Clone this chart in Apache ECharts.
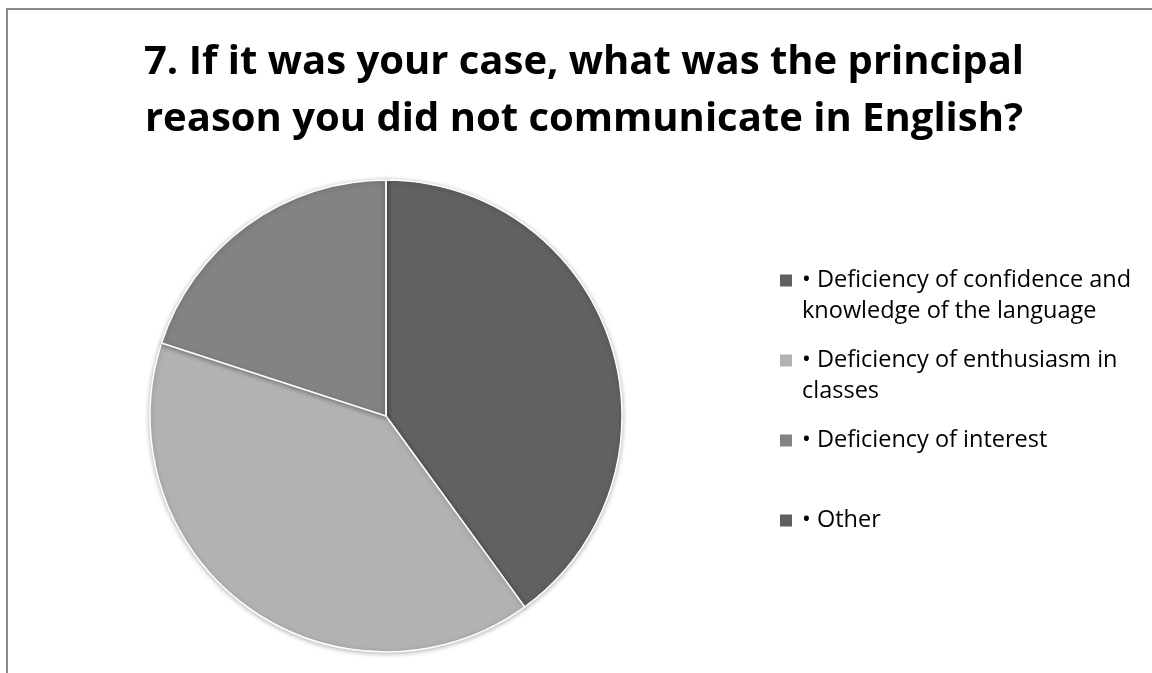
<!DOCTYPE html>
<html>
<head>
<meta charset="utf-8">
<script src="https://cdn.jsdelivr.net/npm/echarts@6/dist/echarts.min.js"></script>
<style>
  html, body { margin: 0; padding: 0; background: #ffffff; }
  #chart { width: 1152px; height: 673px; }
</style>
</head>
<body>
<div id="chart"></div>
<script>
// Survey question 7: share of answers per reason
const titleLines = [
  '7. If it was your case, what was the principal',
  'reason you did not communicate in English?'
];
const categories = [
  '• Deficiency of confidence and knowledge of the language',
  '• Deficiency of enthusiasm in classes',
  '• Deficiency of interest',
  '• Other'
];
// legend text, wrapped the way it is printed
const legendLines = [
  ['• Deficiency of confidence and', 'knowledge of the language'],
  ['• Deficiency of enthusiasm in', 'classes'],
  ['• Deficiency of interest', ''],
  ['• Other', '']
];
const values = [40, 40, 20, 0];
const colors = ['#616161', '#b2b2b2', '#838383', '#5f5f5f'];

// square swatch sitting level with the first text line of a two-line entry
const swatch = 'path://M0,0h12v12h-12zM0,42.9h0.1v0.1h-0.1z';

const chart = echarts.init(document.getElementById('chart'), null, { renderer: 'canvas' });

chart.setOption({
  animation: false,
  backgroundColor: '#ffffff',
  color: colors,
  title: {
    text: titleLines.join('\n'),
    left: 584,
    top: 34,
    padding: 0,
    textAlign: 'center',
    textStyle: {
      fontFamily: 'Open Sans',
      fontWeight: 'bold',
      fontSize: 40,
      lineHeight: 57,
      color: '#000000'
    }
  },
  legend: {
    orient: 'vertical',
    left: 780,
    top: 265,
    padding: 0,
    itemGap: 18,
    itemWidth: 12,
    itemHeight: 43,
    selectedMode: false,
    data: categories.map(name => ({ name: name, icon: swatch })),
    formatter: name => legendLines[categories.indexOf(name)].join('\n'),
    itemStyle: { borderWidth: 0, shadowBlur: 0, shadowOffsetY: 0 },
    textStyle: {
      fontFamily: 'Open Sans',
      fontSize: 23.5,
      lineHeight: 31,
      color: '#000000',
      padding: [0, 0, 0, 5]
    }
  },
  graphic: [{
    type: 'rect',
    silent: true,
    z: -10,
    shape: { x: 7, y: 9, width: 1300, height: 900 },
    style: { fill: 'none', stroke: '#8a8a8a', lineWidth: 2 }
  }],
  series: [{
    type: 'pie',
    center: [386, 416],
    radius: 236,
    startAngle: 90,
    clockwise: true,
    avoidLabelOverlap: false,
    label: { show: false },
    labelLine: { show: false },
    emphasis: { disabled: true },
    itemStyle: {
      borderColor: '#ffffff',
      borderWidth: 1.5,
      shadowBlur: 5,
      shadowOffsetY: 1,
      shadowColor: 'rgba(0,0,0,0.28)'
    },
    data: categories.map((name, i) => ({ name: name, value: values[i] }))
  }]
});
</script>
</body>
</html>
